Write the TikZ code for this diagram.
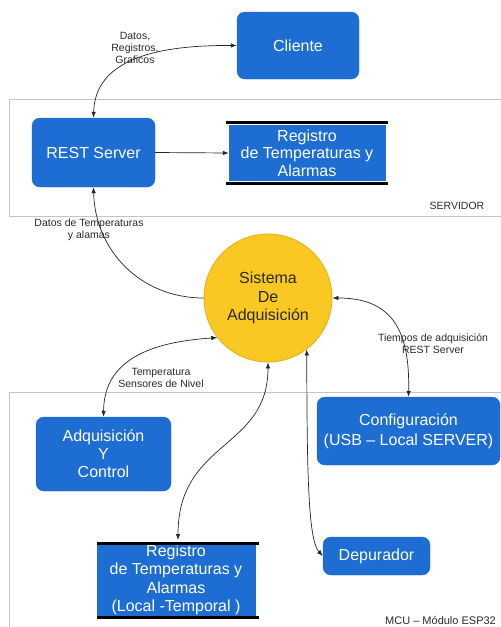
\documentclass[tikz,border=0pt]{standalone}
\usepackage{fontspec}
\setmainfont{Liberation Sans}
\usetikzlibrary{arrows.meta}
\definecolor{boxblue}{HTML}{1D6DD3}
\definecolor{sysyellow}{HTML}{F9C823}
\definecolor{sysborder}{HTML}{E2AE10}
\definecolor{framegray}{HTML}{C4C4C4}
\definecolor{labelgray}{HTML}{2A2A2A}
\tikzset{
  bluebox/.style={draw=boxblue, fill=boxblue, rounded corners=8pt, text=white,
    align=center, inner sep=2pt, font=\fontsize{16}{18}\selectfont},
  storebox/.style={draw=boxblue, fill=boxblue, text=white,
    align=center, inner sep=1pt, font=\fontsize{16}{18}\selectfont},
  storeline/.style={line width=3pt, black},
  sysnode/.style={circle, draw=sysborder, fill=sysyellow, text=labelgray, line width=0.8pt,
    minimum size=128pt, align=center, inner sep=0pt, font=\fontsize{16}{18.3}\selectfont},
  lbl/.style={text=labelgray, align=center, inner sep=0pt, font=\fontsize{10.5}{12}\selectfont},
  conn/.style={draw=black!85, line width=0.7pt},
  tip/.tip={Latex[length=6pt,width=4.5pt]},
  frame/.style={draw=framegray, line width=0.8pt}
}
\begin{document}
\begin{tikzpicture}[x=1pt,y=-1pt]
\useasboundingbox (0,0) rectangle (501,627);
\clip (0,0) rectangle (501,627);
\fill[white] (0,0) rectangle (501,627);
% frames
\draw[frame] (9,99) rectangle (530,216);
\draw[frame] (9,392) rectangle (530,660);
\node[lbl] (servlbl) at (457,206) {SERVIDOR};
\node[lbl, anchor=west, font=\fontsize{11}{12}\selectfont] (mculbl) at (385,620) {MCU – Módulo ESP32};
% nodes
\node[bluebox, minimum width=122pt, minimum height=67pt] (cliente) at (298,45.5) {Cliente};
\node[bluebox, minimum width=123pt, minimum height=69pt] (rest) at (93.5,152.5) {REST Server};
\node[storebox, minimum width=156pt, minimum height=55pt, font=\fontsize{16}{17.5}\selectfont] (regs) at (307,153) {Registro\\de Temperaturas y\\Alarmas};
\draw[storeline] (226,122.5) -- (388,122.5);
\draw[storeline] (226,183) -- (388,183);
\node[sysnode] (sis) at (268,298) {Sistema\\De\\Adquisición};
\node[bluebox, minimum width=135pt, minimum height=74pt] (adq) at (103.5,454) {Adquisición\\Y\\Control};
\node[bluebox, minimum width=183pt, minimum height=68pt, font=\fontsize{16}{20}\selectfont] (config) at (408.5,431) {Configuración\\(USB – Local SERVER)};
\node[storebox, minimum width=158pt, minimum height=68pt, font=\fontsize{16}{18.5}\selectfont] (regl) at (176,580) {Registro\\de Temperaturas y\\Alarmas\\(Local -Temporal )};
\draw[storeline] (97,543) -- (259,543);
\draw[storeline] (97,617) -- (259,617);
\node[bluebox, minimum width=107pt, minimum height=38pt] (dep) at (376.5,556) {Depurador};
% connectors
\coordinate (reglTop) at (178,540);
\draw[conn, {tip}-{tip}] (rest.north) .. controls (95,62) and (150,45) .. (cliente.west);
\draw[conn, -{tip}] (rest.east) -- (regs.west);
\draw[conn, -{tip}] (sis.west) .. controls (140,298) and (95,250) .. (rest.south);
\draw[conn, {tip}-{tip}] (sis.east) .. controls (392,298) and (410,330) .. (config.north);
\draw[conn, {tip}-{tip}] (sis.218) .. controls (150,342) and (104,360) .. (adq.north);
\draw[conn, {tip}-{tip}] (sis.south) .. controls (268,450) and (178,440) .. (reglTop);
\draw[conn, {tip}-{tip}] (sis.307) .. controls (307,470) and (308,540) .. (dep.west);
% labels
\node[lbl] (l1) at (135,48) {Datos,\\Registros,\\Graficos};
\node[lbl] (l2) at (89,230) {Datos de Temperaturas\\y alamas};
\node[lbl] (l3) at (433,344) {Tiempos de adquisición\\REST Server};
\node[lbl] (l4) at (161,378) {Temperatura\\Sensores de Nivel};
\end{tikzpicture}
\end{document}
